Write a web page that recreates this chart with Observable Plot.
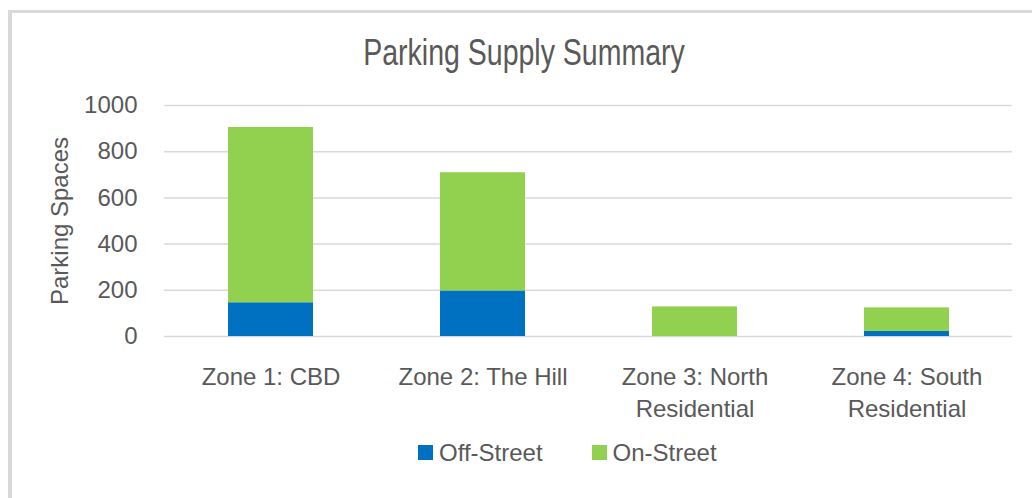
<!DOCTYPE html>
<html><head><meta charset="utf-8">
<script src="https://cdn.jsdelivr.net/npm/d3@7"></script>
<script src="https://cdn.jsdelivr.net/npm/@observablehq/plot@0.6"></script>
<style>
html,body{margin:0;padding:0;background:#fff;}
#wrap{position:relative;width:1032px;height:498px;overflow:hidden;background:#fff;font-family:"Liberation Sans",Arial,sans-serif;color:#595959;}
#frame{position:absolute;left:8px;top:10px;width:1100px;height:600px;border-left:4px solid #d9d9d9;border-top:3px solid #d9d9d9;box-sizing:border-box;}
#title{position:absolute;left:0;top:29px;width:1048px;text-align:center;font-family:"Liberation Sans",Arial,sans-serif;font-size:28.5px;line-height:36px;white-space:nowrap;transform:scale(1,1.27);transform-origin:50% 0;}
#chart{position:absolute;left:0;top:0;}
#legend{position:absolute;left:418px;top:436px;}
.lg-swatches{font-family:"Liberation Sans",Arial,sans-serif !important;font-size:24px !important;color:#595959 !important;margin:0 !important;}
.lg-swatch{margin-right:49px !important;}
.lg-swatch > svg{margin-right:6px !important;}
</style>
</head><body>
<div id="wrap">
  <div id="frame"></div>
  <div id="title">Parking Supply Summary</div>
  <div id="chart"></div>
  <div id="legend"></div>
</div>
<script>
const zones = ["Zone 1: CBD", "Zone 2: The Hill", "Zone 3: North Residential", "Zone 4: South Residential"];
const zoneLabels = ["Zone 1: CBD", "Zone 2: The Hill", "Zone 3: North\nResidential", "Zone 4: South\nResidential"];
const series = ["Off-Street", "On-Street"];
const colors = ["#0070C0", "#92D050"];
const offStreet = [146, 197, 0, 22];
const onStreet = [759, 512, 128, 102];
const yTicks = [0, 200, 400, 600, 800, 1000];

const data = zones.flatMap((z, i) => [
  {zone: z, type: series[0], value: offStreet[i]},
  {zone: z, type: series[1], value: onStreet[i]}
]);

const chart = Plot.plot({
  width: 1032, height: 430,
  marginTop: 105, marginBottom: 94, marginLeft: 164, marginRight: 20,
  style: {fontFamily: '"Liberation Sans", Arial, sans-serif', fontSize: "24px", color: "#595959", background: "transparent", overflow: "visible"},
  x: {domain: zones, paddingInner: 0.6, paddingOuter: 0.3, label: null},
  y: {domain: [0, 1000]},
  color: {domain: series, range: colors},
  marks: [
    Plot.gridY(yTicks, {stroke: "#d9d9d9", strokeOpacity: 1, strokeWidth: 1.5}),
    Plot.barY(data, {x: "zone", y: "value", fill: "type", order: series}),
    Plot.axisX({tickSize: 0, tickPadding: 26, lineHeight: 1.33, label: null,
      tickFormat: d => zoneLabels[zones.indexOf(d)]}),
    Plot.axisY(yTicks, {tickSize: 0, tickPadding: 27, label: "Parking Spaces",
      labelAnchor: "center", labelOffset: 114, labelArrow: "none",
      tickFormat: d => String(d)})
  ]
});
document.getElementById("chart").appendChild(chart);

const legend = Plot.legend({color: {domain: series, range: colors}, className: "lg", swatchSize: 15});
document.getElementById("legend").appendChild(legend);
</script>
</body></html>
